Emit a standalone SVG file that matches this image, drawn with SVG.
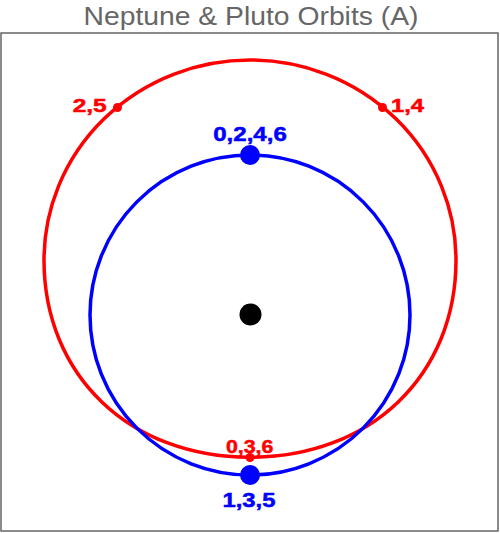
<svg xmlns="http://www.w3.org/2000/svg" width="500" height="533" viewBox="0 0 500 533">
<style>
.title{font-family:"Liberation Sans",Arial,sans-serif;font-size:26.5px;fill:#666666}
.lbl{font-family:"Liberation Sans",Arial,sans-serif;font-weight:bold;stroke-width:0.5}
.red{fill:#ff0000;stroke:#ff0000}
.blue{fill:#0000ff;stroke:#0000ff}
circle.red,circle.blue{stroke:none}
.orbit{fill:none;stroke-width:3.5}
</style>
<rect width="500" height="533" fill="#ffffff"/>
<text class="title" x="251" y="25" text-anchor="middle" textLength="335" lengthAdjust="spacingAndGlyphs">Neptune &amp; Pluto Orbits (A)</text>
<rect x="1" y="33" width="497" height="498" fill="none" stroke="#666666" stroke-width="1.5"/>
<g id="connectors">
<path id="pluto-orbit" class="orbit" stroke="#ff0000" d="M 44 260 A 206 200 0 0 1 456 260 C 456 375.4 370.5 457.3 250 457.3 C 129.5 457.3 44 375.4 44 260 Z"/>
<circle id="neptune-orbit" class="orbit" cx="250" cy="315" r="160" stroke="#0000ff"/>
</g>
<g id="sun"><circle cx="250.5" cy="314.5" r="11" fill="#000000"/></g>
<g id="pluto-25">
<circle class="red" cx="117.5" cy="107.5" r="4.5"/>
<text class="lbl red" x="72.7" y="111.7" font-size="18.5" textLength="34" lengthAdjust="spacingAndGlyphs">2,5</text>
</g>
<g id="pluto-14">
<circle class="red" cx="382.5" cy="107.5" r="4.5"/>
<text class="lbl red" x="391" y="111.7" font-size="18.5" textLength="33" lengthAdjust="spacingAndGlyphs">1,4</text>
</g>
<g id="pluto-036">
<circle class="red" cx="250" cy="457.5" r="4.5"/>
<text class="lbl red" x="249.7" y="452.7" font-size="18.5" text-anchor="middle" textLength="47.5" lengthAdjust="spacingAndGlyphs">0,3,6</text>
</g>
<g id="neptune-0246">
<circle class="blue" cx="250" cy="155" r="10"/>
<text class="lbl blue" x="250" y="140.5" font-size="19.5" text-anchor="middle" textLength="73.5" lengthAdjust="spacingAndGlyphs">0,2,4,6</text>
</g>
<g id="neptune-135">
<circle class="blue" cx="250" cy="475" r="10"/>
<text class="lbl blue" x="249" y="507.3" font-size="19.5" text-anchor="middle" textLength="53" lengthAdjust="spacingAndGlyphs">1,3,5</text>
</g>
</svg>
